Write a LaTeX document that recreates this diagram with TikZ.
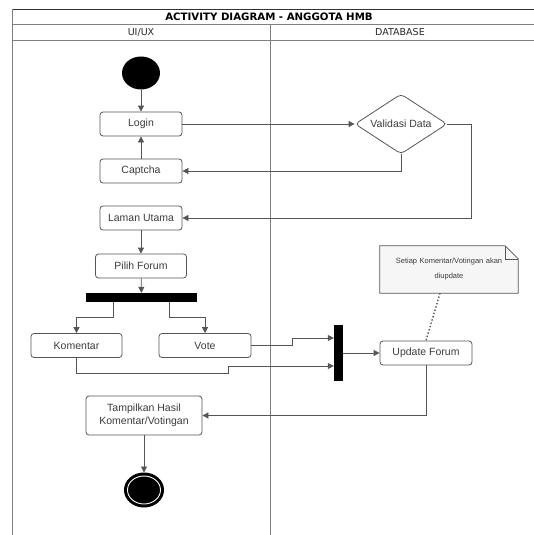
\documentclass[tikz,border=0pt]{standalone}
\usepackage{fontspec}
\setmainfont{Liberation Sans}
\newfontfamily\dejavu{DejaVu Sans}
\usetikzlibrary{shapes.geometric, arrows.meta, calc}
\definecolor{edge}{RGB}{85, 85, 85}
\definecolor{ink}{RGB}{60, 60, 60}
\definecolor{paper}{RGB}{246, 246, 246}

\begin{document}
\begin{tikzpicture}[x=1pt, y=-1pt,
    act/.style={draw=edge, rounded corners=3, line width=0.8, minimum height=24,
                inner sep=2, text=ink, font=\fontsize{10.5}{12.5}\selectfont},
    bar/.style={fill=black, inner sep=0},
    flow/.style={draw=edge, line width=0.8, -{Triangle[length=6pt, width=6pt]}},
    lane/.style={draw=gray, line width=0.8}]

  \useasboundingbox (0, 0) rectangle (534, 535);

  % swimlanes
  \draw[black!80, line width=0.9] (12, 9) -- (540, 9);
  \draw[lane] (12, 24) -- (540, 24);
  \draw[lane] (12, 40) -- (540, 40);
  \draw[lane] (12, 9) -- (12, 540);
  \draw[lane] (270, 24) -- (270, 540);
  \node (title) at (269, 16.5) {\dejavu\bfseries\fontsize{10.2}{11}\selectfont ACTIVITY DIAGRAM - ANGGOTA HMB};
  \node[text=black!85] (lanea) at (141, 32) {\dejavu\fontsize{9.5}{10}\selectfont UI/UX};
  \node[text=black!85] (laneb) at (400, 32) {\dejavu\fontsize{9.5}{10}\selectfont DATABASE};

  % nodes
  \node[ellipse, fill=black, minimum width=38, minimum height=33, inner sep=0] (start) at (141, 73) {};
  \node[act, minimum width=82] (login) at (141, 124) {Login};
  \node[act, minimum width=82] (captcha) at (141, 171) {Captcha};
  \node[act, minimum width=82] (laman) at (141, 218) {Laman Utama};
  \node[diamond, aspect=1.5, draw=edge, rounded corners=4, line width=0.8, inner sep=0,
        minimum width=92, minimum height=60, text=ink,
        font=\fontsize{10.5}{12.5}\selectfont] (valid) at (401, 124) {Validasi Data};
  \node[act, minimum width=91] (pilih) at (141, 266) {Pilih Forum};
  \node[bar, minimum width=111, minimum height=9] (fork) at (141.5, 297.5) {};
  \node[act, minimum width=91] (komen) at (76.5, 345.5) {Komentar};
  \node[act, minimum width=92] (vote) at (205, 345.5) {Vote};
  \node[bar, minimum width=9, minimum height=56] (join) at (338.5, 353) {};
  \node[act, minimum width=92] (update) at (426, 353) {Update Forum};
  \node[act, minimum width=116, minimum height=39, align=center] (tampil) at (144, 415.5)
        {Tampilkan Hasil\\Komentar/Votingan};
  \node[ellipse, fill=black, draw=black, line width=1, minimum width=39, minimum height=34,
        inner sep=0] (stop) at (144, 490) {};
  \draw[white, line width=0.9] (stop.center) ellipse (16.5 and 14);

  % note
  \node[minimum width=138, minimum height=47, inner sep=0] (note) at (449, 269.5) {};
  \fill[paper] (note.north west) -- ($(note.north east)+(-13, 0)$) -- ($(note.north east)+(0, 13)$)
               -- (note.south east) -- (note.south west) -- cycle;
  \draw[edge, line width=0.8] (note.north west) -- ($(note.north east)+(-13, 0)$)
                              -- ($(note.north east)+(0, 13)$) -- (note.south east)
                              -- (note.south west) -- cycle;
  \draw[edge, line width=0.6] ($(note.north east)+(-13, 0)$) -- ($(note.north east)+(-13, 13)$)
                              -- ($(note.north east)+(0, 13)$);
  \node[text width=130, align=center, text=ink, font=\fontsize{7.5}{15}\selectfont] (notetext) at (note)
        {Setiap Komentar/Votingan akan\\diupdate};
  \draw[edge, line width=1.4, dotted] ($(note.south)+(-9, 0)$) -- (update.north);

  % connectors
  \draw[flow] (start) -- (login);
  \draw[flow] (login) -- (valid);
  \draw[flow] (valid.south) |- (captcha.east);
  \draw[flow] (captcha) -- (login);
  \draw[flow] (valid.east) -- ++(24, 0) |- (laman.east);
  \draw[flow] (laman) -- (pilih);
  \draw[flow] (pilih) -- (fork);
  \draw[flow] ($(fork.south)+(-28.5, 0)$) -- ++(0, 15) -| (komen.north);
  \draw[flow] ($(fork.south)+(27.5, 0)$) -- ++(0, 15) -| (vote.north);
  \draw[flow] (vote.east) -- ++(41, 0) |- ($(join.west)+(0, -15)$);
  \draw[flow] (komen.south) -- ++(0, 15) -| ($(komen.south)+(152, 9)$) |- ($(join.west)+(0, 13)$);
  \draw[flow] (join) -- (update);
  \draw[flow] (update.south) |- (tampil.east);
  \draw[flow] (tampil) -- (stop);

\end{tikzpicture}
\end{document}
